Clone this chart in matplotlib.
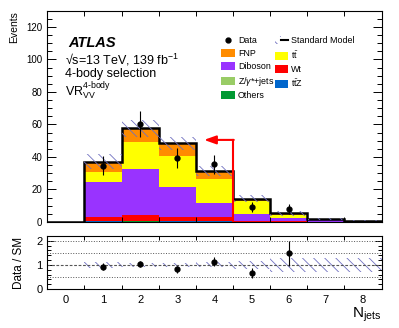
import numpy as np
import matplotlib
matplotlib.use("Agg")
import matplotlib.pyplot as plt
from matplotlib.patches import Patch
from matplotlib.lines import Line2D
from matplotlib.legend_handler import HandlerTuple
from matplotlib.ticker import MultipleLocator, FixedLocator

plt.rcParams['font.family'] = ['Liberation Sans', 'DejaVu Sans']
plt.rcParams['mathtext.fontset'] = 'custom'
plt.rcParams['mathtext.rm'] = 'Liberation Sans'
plt.rcParams['mathtext.it'] = 'Liberation Sans:italic'
plt.rcParams['mathtext.bf'] = 'Liberation Sans:bold'
plt.rcParams['hatch.linewidth'] = 0.6

BS = chr(92)  # backslash, for the hatch pattern

# N_jets bins 0..8
njets = np.arange(0, 9)
others = [0, 0.3, 0.4, 0.3, 0.3, 0.1, 0.1, 0.05, 0.02]
ttz = [0, 0.1, 0.2, 0.2, 0.2, 0.1, 0.1, 0.05, 0.02]
zjets = [0, 0.2, 0.2, 0.1, 0.1, 0.05, 0.02, 0.0, 0.0]
wt = [0, 2.7, 3.7, 2.4, 2.4, 0.6, 0.2, 0.1, 0.02]
diboson = [0, 21.6, 27.9, 18.4, 8.5, 3.8, 1.9, 0.9, 0.35]
ttbar = [0, 5.9, 17.1, 19.2, 14.8, 8.0, 1.8, 0.6, 0.25]
fnp = [0, 6.4, 8.2, 7.8, 4.9, 1.7, 1.3, 0.3, 0.14]
sm_rel_unc = [0, 0.13, 0.09, 0.08, 0.10, 0.15, 0.28, 0.30, 0.30]

data_x = [1, 2, 3, 4, 5, 6]
data_y = [34.5, 60.3, 39.4, 35.5, 9.5, 8.0]

lab_tt = r"$\mathrm{t\bar{t}}$"
lab_ttz = r"$\mathrm{t\bar{t}Z}$"
lab_z = r"Z/$\gamma$*+jets"

stack = [
    ("Others", others, "#009933"),
    (lab_ttz, ttz, "#0066cc"),
    (lab_z, zjets, "#99cc66"),
    ("Wt", wt, "#ff0000"),
    ("Diboson", diboson, "#9933ff"),
    (lab_tt, ttbar, "#ffff00"),
    ("FNP", fnp, "#ff8c00"),
]

fig = plt.figure(figsize=(3.99, 3.28), dpi=100)
ax = fig.add_axes([0.1185, 0.3232, 0.838, 0.6442])
rax = fig.add_axes([0.1185, 0.1189, 0.838, 0.1616])

hatch_col = "#7070c0"
hatch = BS * 3
edges = np.arange(-0.5, 9.0, 1.0)

bottom = np.zeros(len(njets))
for name, vals, col in stack:
    vals = np.array(vals)
    ax.bar(njets, vals, width=1.0, bottom=bottom, color=col, linewidth=0)
    bottom = bottom + vals
total = bottom

# SM total outline
ax.stairs(total, edges, color="black", linewidth=1.8, baseline=None)

# SM uncertainty band
unc = total * np.array(sm_rel_unc)
ax.bar(njets[1:], 2 * unc[1:], width=1.0, bottom=(total - unc)[1:], fill=False,
       hatch=hatch, edgecolor=hatch_col, linewidth=0)

# data
dy = np.array(data_y)
ax.errorbar(data_x, dy, yerr=np.sqrt(dy), fmt="o", color="black", markersize=3.5,
            elinewidth=0.8, capsize=0, zorder=5)

# cut arrow
ax.plot([4.5, 4.5], [0, 50.5], color="red", linewidth=1.5, zorder=6)
ax.annotate("", xy=(3.72, 50.5), xytext=(4.52, 50.5),
            arrowprops=dict(arrowstyle="-|>,head_length=0.7,head_width=0.25",
                            color="red", lw=1.5, shrinkA=0, shrinkB=0), zorder=6)

ax.set_xlim(-0.5, 8.5)
ax.set_ylim(0, 130)
ax.yaxis.set_major_locator(MultipleLocator(20))
ax.yaxis.set_minor_locator(MultipleLocator(5))
ax.xaxis.set_major_locator(FixedLocator(edges))
ax.set_xticklabels([])
ax.tick_params(axis="both", which="both", direction="in", top=True, right=True, labelsize=7)
ax.tick_params(axis="y", which="major", length=6.5, width=0.7)
ax.tick_params(axis="y", which="minor", length=3.8, width=0.7)
ax.tick_params(axis="x", which="major", length=3.8, width=0.7)
ax.set_ylabel("Events", loc="top", fontsize=7.5, labelpad=5)

ax.text(0.062, 0.847, "ATLAS", transform=ax.transAxes, fontsize=10.5, fontweight="bold",
        style="italic", va="center")
ax.text(0.054, 0.767, "\u221as=13 TeV, 139 fb$^{-1}$", transform=ax.transAxes,
        fontsize=9, va="center")
ax.text(0.054, 0.700, "4-body selection", transform=ax.transAxes, fontsize=9, va="center")
ax.text(0.054, 0.620, r"VR$_{\mathrm{VV}}^{\mathrm{4\text{-}body}}$", transform=ax.transAxes,
        fontsize=9, va="center")

# legend
h_data = Line2D([], [], marker="o", color="black", linestyle="none", markersize=3.5)
h_sm = (Patch(facecolor="none", edgecolor=hatch_col, hatch=hatch, linewidth=0),
        Line2D([], [], color="black", linewidth=1.5))
patches = {name: Patch(facecolor=col, linewidth=0) for name, _, col in stack}
handles = [h_data, patches["FNP"], patches["Diboson"], patches[lab_z],
           patches["Others"], h_sm, patches[lab_tt], patches["Wt"], patches[lab_ttz]]
labels = ["Data", "FNP", "Diboson", lab_z, "Others", "Standard Model",
          lab_tt, "Wt", lab_ttz]
ax.legend(handles, labels, ncol=2, loc="upper left", bbox_to_anchor=(0.52, 0.878),
          frameon=False, fontsize=6.4, handlelength=1.55, handleheight=1.0,
          handletextpad=0.35, labelspacing=0.42, columnspacing=0.0, borderpad=0,
          borderaxespad=0, handler_map={tuple: HandlerTuple(ndivide=None, pad=0)})

# ratio panel
ratio = dy / total[data_x]
ratio_err = np.sqrt(dy) / total[data_x]
rel = np.array(sm_rel_unc)
rax.bar(njets[1:], 2 * rel[1:], width=1.0, bottom=1 - rel[1:], fill=False,
        hatch=hatch, edgecolor=hatch_col, linewidth=0)
for yv in [0.5, 1.5, 2.0]:
    rax.axhline(yv, color="#555555", linestyle=":", linewidth=0.7)
rax.axhline(1.0, color="#555555", linestyle=(0, (2.5, 1.5)), linewidth=0.8)
rax.errorbar(data_x, ratio, yerr=ratio_err, fmt="o", color="black", markersize=3.5,
             elinewidth=0.8, capsize=0, zorder=5)
rax.set_xlim(-0.5, 8.5)
rax.set_ylim(0, 2.2)
rax.yaxis.set_major_locator(MultipleLocator(1))
rax.yaxis.set_minor_locator(MultipleLocator(0.2))
rax.xaxis.set_major_locator(FixedLocator(njets))
rax.xaxis.set_minor_locator(FixedLocator(edges))
rax.set_xticklabels([str(n) for n in njets])
rax.tick_params(axis="both", which="both", direction="in", top=True, right=True, labelsize=8)
rax.tick_params(axis="x", which="major", length=0, pad=4)
rax.tick_params(axis="x", which="minor", length=3.2, width=0.7)
rax.tick_params(axis="y", which="major", length=5, width=0.7)
rax.tick_params(axis="y", which="minor", length=3, width=0.7)
rax.set_ylabel("Data / SM", fontsize=8.5, labelpad=8)
rax.set_xlabel(r"N$_{\mathrm{jets}}$", loc="right", fontsize=11, labelpad=1)

for a in (ax, rax):
    for s in a.spines.values():
        s.set_linewidth(0.8)

fig.savefig("out.png", dpi=100)
